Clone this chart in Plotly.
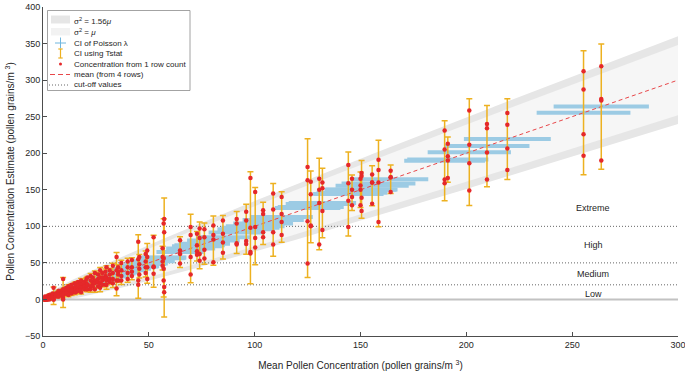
import numpy as np
import plotly.graph_objects as go

# ---------------- data ----------------
# concentration estimate from each of the 4 rows, one column per sample
row_1 = [2, 4, 4, 2, 6, 4, 6, 8, 6, 16, 8, 10, 12, 28, 12, 14, 16, 14, 18, 20, 16, 22, 20, 24, 22, 26, 24, 28,
         30, 32, 30, 36, 34, 40, 36, 38, 44, 40, 46, 58, 44, 50, 52, 54, 79, 58, 62, 67, 85, 70, 104, 110, 81,
         99, 90, 97, 96, 101, 108, 110, 120, 166, 147, 122, 145, 140, 181, 161, 165, 160, 184, 165, 173, 165,
         171, 191, 176, 231, 213, 258.5, 240, 255, 312, 319]
row_2 = [0, 0, 2, 4, 2, 4, 4, 4, 6, 4, 6, 8, 8, 8, 10, 10, 12, 12, 14, 14, 14, 16, 18, 16, 20, 20, 22, 22,
         20, 26, 24, 26, 28, 30, 30, 32, 30, 34, 36, 40, 38, 40, 44, 44, 55, 48, 52, 58, 45, 58, 56, 92, 67,
         88, 74, 84, 85, 88, 90, 104, 108, 98, 99, 117, 123, 117, 163, 144, 150, 152, 159, 150, 169, 156,
         160, 177, 167, 205, 196, 211.6, 234, 239, 287, 274]
row_3 = [0, 0, 0, 2, 2, 2, 2, 4, 4, 0, 6, 6, 6, 2, 8, 8, 8, 10, 10, 12, 12, 12, 14, 14, 16, 16, 18, 18,
         20, 18, 22, 22, 24, 22, 26, 28, 26, 28, 28, 26, 34, 32, 36, 38, 26, 42, 44, 44, 44, 52, 42, 17, 62,
         58, 66, 62, 68, 82, 78, 77, 80, 65, 84, 92, 92, 106, 107, 100, 132, 121, 135, 140, 139, 150,
         160, 160, 167, 164, 190, 186.4, 201, 206.5, 226, 272]
row_4 = [2, 0, 2, 0, 2, 2, 0, 2, 2, 0, 4, 4, 4, 0, 6, 6, 8, 8, 6, 8, 12, 10, 10, 12, 12, 10, 14, 14,
         14, 14, 18, 14, 18, 16, 20, 20, 20, 24, 22, 15, 26, 26, 28, 32, 20, 34, 36, 28, 35, 46, 26, 10, 49,
         34, 61, 53, 56, 51, 64, 75, 76, 63, 71, 85, 75, 88, 49, 101, 75, 95, 99, 129, 121, 129,
         131, 106, 147, 159, 166, 149.1, 164, 177, 196.5, 190]

cutoff_values = [20, 50, 100]
category_labels = ["Low", "Medium", "High", "Extreme"]
category_label_y = [8, 35, 75, 125]
category_label_x = 260

dispersion_factors = [1.56, 1.0]           # sigma^2 = factor * mu
grains_per_count = 2.0                     # concentration represented by one counted grain (single row)
t_crit = 3.182                             # t(0.975, 3 dof)
z_crit = 1.96

x_ticks = [0, 50, 100, 150, 200, 250, 300]
y_ticks = [-50, 0, 50, 100, 150, 200, 250, 300, 350, 400]
x_range = [0, 300]
y_range = [-50, 400]

legend_labels = ["σ<sup>2</sup> = 1.56<i>μ</i>", "σ<sup>2</sup> = <i>μ</i>", "CI of Poisson λ", "CI using Tstat",
                 "Concentration from 1 row count", "mean (from 4 rows)", "cut-off values"]

# ---------------- derived statistics ----------------
rows = np.array([row_1, row_2, row_3, row_4], dtype=float)
mean = rows.mean(axis=0)
sd = rows.std(axis=0, ddof=1)
ci_t = t_crit * sd / np.sqrt(4)
ci_pois = z_crit * np.sqrt(mean * grains_per_count / 4)

mu = np.linspace(x_range[0], x_range[1], 601)

# ---------------- styling ----------------
FONT = "Liberation Sans, Arial, Helvetica, sans-serif"
TXT = "#262626"
BLUE = "#9ccbe4"
ORANGE = "#EDB120"
RED = "#E5282A"
DASH_RED = "#E8474A"
BAND_OUT = "#e6e6e6"
BAND_IN = "#f6f6f6"

W, H = 685, 372
ML, MR, MT, MB = 43, 7, 7, 36
PW, PH = W - ML - MR, H - MT - MB

fig = go.Figure()

# bands
band_cols = [BAND_OUT, BAND_IN]
for f, col in zip(dispersion_factors, band_cols):
    half = z_crit * np.sqrt(f * grains_per_count * mu)
    up = mu + half
    lo = mu - half
    fig.add_trace(go.Scatter(x=np.concatenate([mu, mu[::-1]]), y=np.concatenate([up, lo[::-1]]),
                             fill="toself", fillcolor=col, line=dict(width=0), mode="lines",
                             hoverinfo="skip", showlegend=False))

# zero line
fig.add_trace(go.Scatter(x=x_range, y=[0, 0], mode="lines", line=dict(color="#c2c2c2", width=2),
                         showlegend=False, hoverinfo="skip"))
# cut-off lines
for c in cutoff_values:
    fig.add_trace(go.Scatter(x=x_range, y=[c, c], mode="lines",
                             line=dict(color="#666666", width=1, dash="1px,2px"),
                             showlegend=False, hoverinfo="skip"))

# Poisson CI (horizontal)
fig.add_trace(go.Scatter(x=mean, y=mean, mode="markers", marker=dict(size=1, color="rgba(0,0,0,0)"),
                         error_x=dict(type="data", array=ci_pois, visible=True, thickness=4, width=0, color=BLUE),
                         showlegend=False, hoverinfo="skip"))
# mean line
fig.add_trace(go.Scatter(x=x_range, y=x_range, mode="lines",
                         line=dict(color=DASH_RED, width=1, dash="4px,3px"),
                         showlegend=False, hoverinfo="skip"))
# T-stat CI (vertical)
fig.add_trace(go.Scatter(x=mean, y=mean, mode="markers", marker=dict(size=1, color="rgba(0,0,0,0)"),
                         error_y=dict(type="data", array=ci_t, visible=True, thickness=1.5, width=3, color=ORANGE),
                         showlegend=False, hoverinfo="skip"))
# row counts
fig.add_trace(go.Scatter(x=np.tile(mean, 4), y=rows.flatten(), mode="markers",
                         marker=dict(size=4.5, color=RED, line=dict(width=0)),
                         showlegend=False))

# category labels
annotations = []
for lab, yy in zip(category_labels, category_label_y):
    annotations.append(dict(x=category_label_x, y=yy, xref="x", yref="y", text=lab, showarrow=False,
                            font=dict(family=FONT, size=9, color=TXT)))

# ---------------- manual legend ----------------
def px(xp):
    return (xp - ML) / PW

def py(yp):
    return (H - MB - yp) / PH

shapes = []
shapes.append(dict(type="rect", xref="paper", yref="paper", x0=px(47.5), x1=px(190), y0=py(90.5), y1=py(10.5),
                   fillcolor="white", line=dict(color="#8c8c8c", width=0.8), layer="above"))
entry_y = [21.0, 31.5, 43.0, 53.5, 64.0, 74.5, 85.0]
# patches
shapes.append(dict(type="rect", xref="paper", yref="paper", x0=px(51), x1=px(70), y0=py(23.5), y1=py(15.5),
                   fillcolor=BAND_OUT, line=dict(width=0), layer="above"))
shapes.append(dict(type="rect", xref="paper", yref="paper", x0=px(51), x1=px(70), y0=py(35.5), y1=py(28.0),
                   fillcolor="#f2f2f2", line=dict(width=0), layer="above"))
# blue cross
shapes.append(dict(type="line", xref="paper", yref="paper", x0=px(55), x1=px(66), y0=py(43), y1=py(43),
                   line=dict(color="#6fb6de", width=1), layer="above"))
shapes.append(dict(type="line", xref="paper", yref="paper", x0=px(60.5), x1=px(60.5), y0=py(37.5), y1=py(48.5),
                   line=dict(color="#6fb6de", width=1), layer="above"))
# orange I
shapes.append(dict(type="line", xref="paper", yref="paper", x0=px(60.5), x1=px(60.5), y0=py(49), y1=py(58),
                   line=dict(color=ORANGE, width=1.2), layer="above"))
for yy in (49, 58):
    shapes.append(dict(type="line", xref="paper", yref="paper", x0=px(58.3), x1=px(62.7), y0=py(yy), y1=py(yy),
                       line=dict(color=ORANGE, width=1.2), layer="above"))
# red dot
shapes.append(dict(type="circle", xref="paper", yref="paper", x0=px(59), x1=px(62), y0=py(65.5), y1=py(62.5),
                   fillcolor=RED, line=dict(width=0), layer="above"))
# red dashed
shapes.append(dict(type="line", xref="paper", yref="paper", x0=px(50), x1=px(70), y0=py(74.5), y1=py(74.5),
                   line=dict(color=DASH_RED, width=1, dash="5px,3px"), layer="above"))
# dotted
shapes.append(dict(type="line", xref="paper", yref="paper", x0=px(49), x1=px(70), y0=py(85), y1=py(85),
                   line=dict(color="#666666", width=1, dash="1px,2px"), layer="above"))

for lab, ey in zip(legend_labels, entry_y):
    annotations.append(dict(x=px(72), y=py(ey), xref="paper", yref="paper", text=lab, showarrow=False,
                            xanchor="left", yanchor="middle", font=dict(family=FONT, size=8, color=TXT)))

axis_common = dict(showgrid=False, zeroline=False, showline=True, linecolor="#4d4d4d", linewidth=1,
                   ticks="inside", ticklen=4, tickcolor="#4d4d4d", tickfont=dict(family=FONT, size=9, color=TXT),
                   mirror=False, ticklabeloverflow="allow")

fig.update_layout(
    width=W, height=H, margin=dict(l=ML, r=MR, t=MT, b=MB),
    paper_bgcolor="white", plot_bgcolor="white",
    showlegend=False,
    xaxis=dict(range=x_range, tickvals=x_ticks, automargin=False,
               title=dict(text="Mean Pollen Concentration (pollen grains/m <sup>3</sup>)",
                          font=dict(family=FONT, size=10, color=TXT), standoff=13),
               **axis_common),
    yaxis=dict(range=y_range, tickvals=y_ticks, automargin=False,
               title=dict(text="Pollen Concentration Estimate (pollen grains/m <sup>3</sup>)",
                          font=dict(family=FONT, size=10, color=TXT), standoff=8),
               **axis_common),
    shapes=shapes, annotations=annotations,
)

fig.write_html("out.html", config={"displayModeBar": False},
               post_script="document.body.style.margin='0';document.body.style.overflow='hidden';")
